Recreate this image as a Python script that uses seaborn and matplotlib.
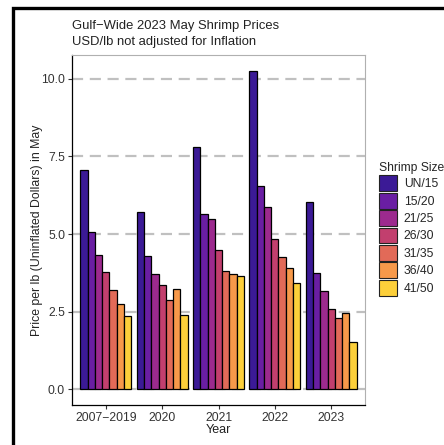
import matplotlib
matplotlib.use("Agg")
import matplotlib.pyplot as plt
import matplotlib.patches as mpatches
import seaborn as sns
import pandas as pd

# data
years = ["2007\u22122019", "2020", "2021", "2022", "2023"]
sizes = ["UN/15", "15/20", "21/25", "26/30", "31/35", "36/40", "41/50"]
price_0719 = [7.05, 5.07, 4.33, 3.77, 3.20, 2.76, 2.35]
price_2020 = [5.70, 4.29, 3.71, 3.37, 2.88, 3.23, 2.40]
price_2021 = [7.82, 5.63, 5.50, 4.50, 3.80, 3.71, 3.66]
price_2022 = [10.26, 6.54, 5.88, 4.84, 4.27, 3.90, 3.42]
price_2023 = [6.04, 3.76, 3.15, 2.59, 2.31, 2.46, 1.52]
size_colors = ["#3b1a96", "#6a1ea3", "#9c2a8e", "#c23f6e", "#e26a58", "#f7994a", "#fccf3a"]

rows = []
for yr, vals in zip(years, [price_0719, price_2020, price_2021, price_2022, price_2023]):
    for s, v in zip(sizes, vals):
        rows.append({"Year": yr, "Size": s, "Price": v})
df = pd.DataFrame(rows)

sns.set_theme(style="white")
plt.rcParams["font.family"] = ["Liberation Sans", "DejaVu Sans"]

fig = plt.figure(figsize=(4.44, 4.45), dpi=100)
W, H = 444, 445
ax = fig.add_axes([72 / W, 1 - 405 / H, (365 - 72) / W, (405 - 55) / H])

sns.barplot(data=df, x="Year", y="Price", hue="Size", order=years, hue_order=sizes,
            palette=size_colors, width=0.9, gap=0, edgecolor="black", linewidth=0.9,
            saturation=1, ax=ax, legend=False, zorder=3)

ax.set_xlim(-0.6, 4.6)
ax.set_ylim(-0.51, 10.77)
ax.set_yticks([0, 2.5, 5, 7.5, 10])
ax.set_yticklabels(["0.0", "2.5", "5.0", "7.5", "10.0"])
for yv in [0, 2.5, 5, 7.5, 10]:
    ax.axhline(yv, color="#c0c0c0", lw=1.6, ls=(0, (5, 3)), zorder=1)

for side in ["top", "right"]:
    ax.spines[side].set_color("#b0b0b0")
    ax.spines[side].set_linewidth(0.8)
for side in ["left", "bottom"]:
    ax.spines[side].set_color("black")
    ax.spines[side].set_linewidth(0.9)

ax.tick_params(axis="both", length=3, width=0.8, color="#333333", labelsize=8.7, labelcolor="#333333",
               bottom=True, left=True, pad=2)
ax.set_xlabel("Year", fontsize=9, color="#222222", labelpad=0)
ax.set_ylabel("Price per lb (Uninflated Dollars) in May", fontsize=8.8, color="#222222")
ax.yaxis.set_label_coords(-0.1, 0.5)

fig.text(72 / W, 1 - 26 / H, "Gulf\u2212Wide 2023 May Shrimp Prices", fontsize=9.4, color="#222222", va="center")
fig.text(72 / W, 1 - 42 / H, "USD/lb not adjusted for Inflation", fontsize=9.4, color="#222222", va="center")

handles = [mpatches.Patch(facecolor=c, edgecolor="#222222", linewidth=0.8, label=s)
           for s, c in zip(sizes, size_colors)]
leg = fig.legend(handles=handles, title="Shrimp Size", loc="upper left",
                 bbox_to_anchor=(379 / W, 1 - 162 / H), frameon=False, fontsize=8.7,
                 title_fontsize=8.7, handlelength=1.45, handleheight=1.65, handletextpad=0.6,
                 labelspacing=0.12, borderaxespad=0, borderpad=0)
leg._legend_box.align = "left"

# outer frame around the figure
fig.add_artist(mpatches.Rectangle((13 / W, -0.05), 1.1, 1 - 8 / H + 0.05, transform=fig.transFigure,
                                  fill=False, edgecolor="black", linewidth=2.4))

fig.savefig("out.png", dpi=100)
